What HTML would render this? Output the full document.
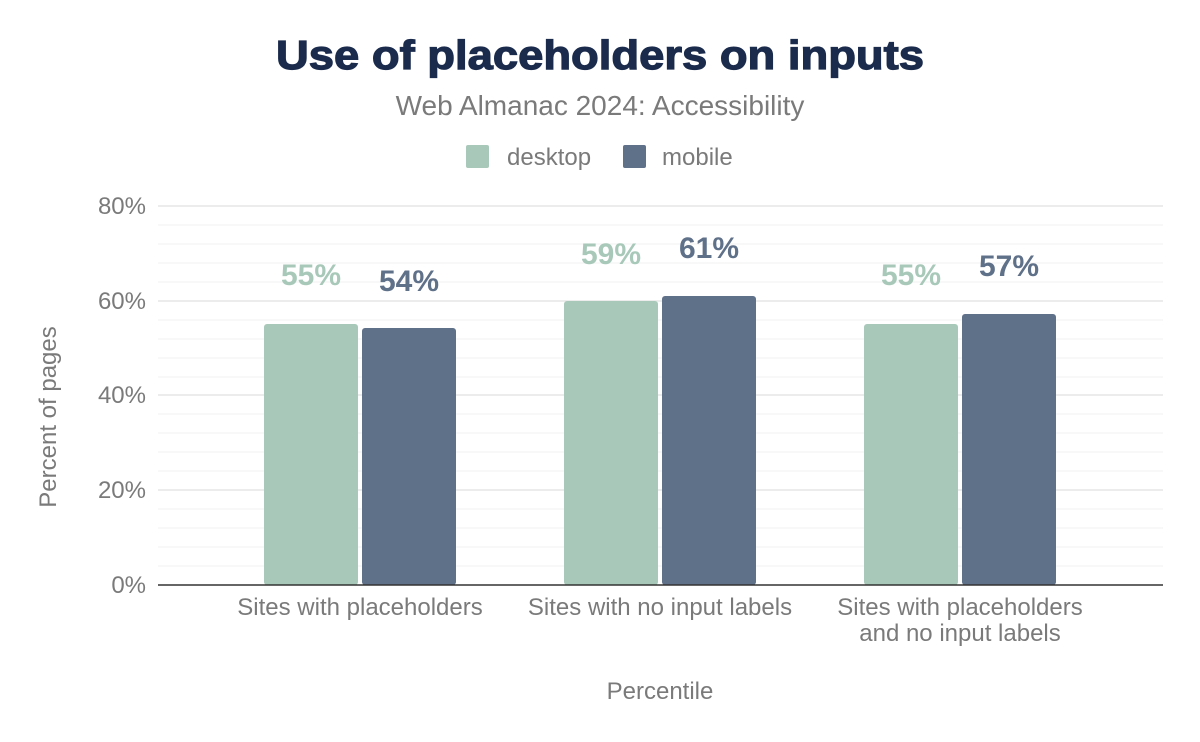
<!DOCTYPE html>
<html><head><meta charset="utf-8"><style>
html,body{margin:0;padding:0;background:#fff;}
svg{display:block;font-family:"Liberation Sans",Arial,sans-serif;}
</style></head><body>
<svg width="1200" height="742" viewBox="0 0 1200 742" xmlns="http://www.w3.org/2000/svg">
<rect width="1200" height="742" fill="#fff"/>
<text x="600" y="69" text-anchor="middle" font-size="41" font-weight="bold" fill="#1a2b4c" stroke="#1a2b4c" stroke-width="1.2" textLength="648" lengthAdjust="spacingAndGlyphs">Use of placeholders on inputs</text>
<text x="600" y="115" text-anchor="middle" font-size="28" fill="#7a7a7a">Web Almanac 2024: Accessibility</text>
<rect x="466" y="145" width="23" height="23" rx="2" fill="#a8c9b9"/>
<text x="507" y="165" font-size="24" fill="#7a7a7a">desktop</text>
<rect x="623" y="145" width="23" height="23" rx="2" fill="#5f7089"/>
<text x="662" y="165" font-size="24" fill="#7a7a7a">mobile</text>
<g stroke="#f5f5f5" stroke-width="1.5">
<line x1="158" x2="1163" y1="225" y2="225"/>
<line x1="158" x2="1163" y1="244" y2="244"/>
<line x1="158" x2="1163" y1="263" y2="263"/>
<line x1="158" x2="1163" y1="282" y2="282"/>
<line x1="158" x2="1163" y1="320" y2="320"/>
<line x1="158" x2="1163" y1="339" y2="339"/>
<line x1="158" x2="1163" y1="358" y2="358"/>
<line x1="158" x2="1163" y1="377" y2="377"/>
<line x1="158" x2="1163" y1="414" y2="414"/>
<line x1="158" x2="1163" y1="433" y2="433"/>
<line x1="158" x2="1163" y1="452" y2="452"/>
<line x1="158" x2="1163" y1="471" y2="471"/>
<line x1="158" x2="1163" y1="509" y2="509"/>
<line x1="158" x2="1163" y1="528" y2="528"/>
<line x1="158" x2="1163" y1="547" y2="547"/>
<line x1="158" x2="1163" y1="566" y2="566"/>
</g>
<g stroke="#ececec" stroke-width="2">
<line x1="158" x2="1163" y1="206" y2="206"/>
<line x1="158" x2="1163" y1="301" y2="301"/>
<line x1="158" x2="1163" y1="395" y2="395"/>
<line x1="158" x2="1163" y1="490" y2="490"/>
</g>
<g font-size="24" fill="#7a7a7a" text-anchor="end">
<text x="146" y="214">80%</text>
<text x="146" y="309">60%</text>
<text x="146" y="403">40%</text>
<text x="146" y="498">20%</text>
<text x="146" y="593">0%</text>
</g>
<g>
<rect x="264" y="324" width="94" height="261" rx="3" fill="#a8c9b9"/>
<rect x="362" y="328" width="94" height="257" rx="3" fill="#5f7089"/>
<rect x="564" y="301" width="94" height="284" rx="3" fill="#a8c9b9"/>
<rect x="662" y="296" width="94" height="289" rx="3" fill="#5f7089"/>
<rect x="864" y="324" width="94" height="261" rx="3" fill="#a8c9b9"/>
<rect x="962" y="314" width="94" height="271" rx="3" fill="#5f7089"/>
</g>
<line x1="158" x2="1163" y1="585" y2="585" stroke="#333" stroke-width="1.5"/>
<g font-size="30" font-weight="bold" text-anchor="middle">
<text x="311" y="285" fill="#a8c9b9">55%</text>
<text x="409" y="291" fill="#5f7089">54%</text>
<text x="611" y="264" fill="#a8c9b9">59%</text>
<text x="709" y="258" fill="#5f7089">61%</text>
<text x="911" y="285" fill="#a8c9b9">55%</text>
<text x="1009" y="276" fill="#5f7089">57%</text>
</g>
<g font-size="24" fill="#7a7a7a" text-anchor="middle">
<text x="360" y="615">Sites with placeholders</text>
<text x="660" y="615">Sites with no input labels</text>
<text x="960" y="615">Sites with placeholders</text>
<text x="960" y="641">and no input labels</text>
<text x="660" y="699">Percentile</text>
<text transform="translate(56,417) rotate(-90)">Percent of pages</text>
</g>
</svg>
</body></html>
